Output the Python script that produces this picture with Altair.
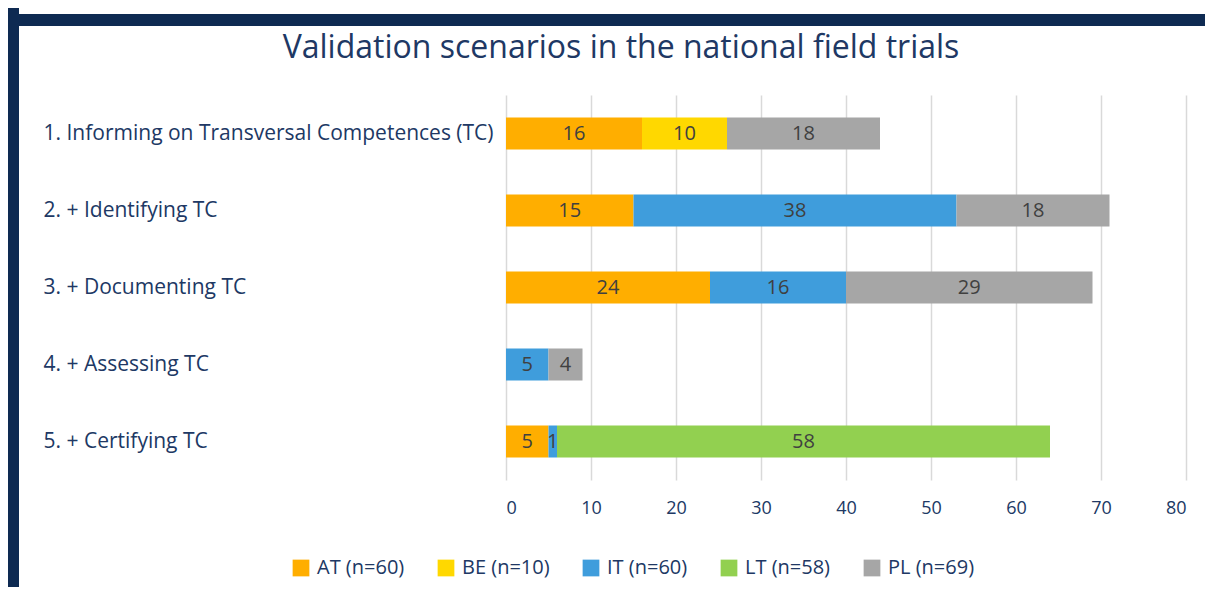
import altair as alt
import pandas as pd

scenarios = [
    "1. Informing on Transversal Competences (TC)",
    "2. + Identifying TC",
    "3. + Documenting TC",
    "4. + Assessing TC",
    "5. + Certifying TC",
]
countries = ["AT (n=60)", "BE (n=10)", "IT (n=60)", "LT (n=58)", "PL (n=69)"]
AT = [16, 15, 24, 0, 5]
BE = [10, 0, 0, 0, 0]
IT = [0, 38, 16, 5, 1]
LT = [0, 0, 0, 0, 58]
PL = [18, 18, 29, 4, 0]
colors = ["#FFAE00", "#FFD800", "#3F9DDC", "#92D050", "#A6A6A6"]
x_ticks = [0, 10, 20, 30, 40, 50, 60, 70, 80]
title_text = "Validation scenarios in the national field trials"

rows = []
for ci, (c, vals) in enumerate(zip(countries, [AT, BE, IT, LT, PL])):
    for s, v in zip(scenarios, vals):
        if v > 0:
            rows.append({"scenario": s, "country": c, "value": v, "order": ci})
df = pd.DataFrame(rows)

FONT = "Open Sans"
NAVY = "#203864"

base = alt.Chart(df).transform_stack(
    stack="value", groupby=["scenario"], as_=["x0", "x1"],
    sort=[alt.SortField("order", order="ascending")],
).transform_calculate(mid="(datum.x0 + datum.x1) / 2")

y_enc = alt.Y("scenario:N", sort=scenarios, title=None,
              axis=alt.Axis(labelAlign="left", labelPadding=463, tickSize=0,
                            ticks=False, domain=False, labelFontSize=21,
                            labelColor=NAVY, labelFont=FONT, grid=False,
                            labelLimit=600))

bars = base.mark_bar(size=32).encode(
    x=alt.X("x0:Q", scale=alt.Scale(domain=[0, 80], nice=False), title=None,
            axis=alt.Axis(values=x_ticks, ticks=False, domain=False,
                          labelFontSize=18, labelColor=NAVY, labelFont=FONT,
                          labelPadding=19, grid=True, gridColor="#D9D9D9",
                          gridWidth=1.5)),
    x2="x1:Q",
    y=y_enc,
    color=alt.Color("country:N", scale=alt.Scale(domain=countries, range=colors),
                    legend=alt.Legend(title=None, orient="none", direction="horizontal",
                                      legendX=-215, legendY=463,
                                      symbolType="square", symbolSize=280,
                                      symbolStrokeWidth=0,
                                      labelFontSize=20, labelColor=NAVY, labelFont=FONT,
                                      columnPadding=31, labelOffset=6)),
)

labels = base.mark_text(fontSize=20, color="#404040", font=FONT).encode(
    x="mid:Q",
    y=alt.Y("scenario:N", sort=scenarios),
    text="value:Q",
)

one = pd.DataFrame({"k": [0]})
title = alt.Chart(one).mark_text(fontSize=32, font=FONT, color=NAVY,
                                 align="center", baseline="middle").encode(
    x=alt.value(115), y=alt.value(-47), text=alt.value(title_text))
frame_left = alt.Chart(one).mark_rule(strokeWidth=12, color="#0E2A52").encode(
    x=alt.value(-493), y=alt.value(-87), y2=alt.value(500))
frame_top = alt.Chart(one).mark_rule(strokeWidth=12, color="#0E2A52").encode(
    y=alt.value(-75), x=alt.value(-499), x2=alt.value(720))

chart = alt.layer(bars, labels, title, frame_left, frame_top).properties(
    width=680, height=385,
    autosize=alt.AutoSizeParams(type="none"),
    padding={"left": 498, "top": 87, "right": 19, "bottom": 107},
).configure_view(stroke=None)

chart.save("out.html", embed_options={"renderer": "svg", "actions": False})
